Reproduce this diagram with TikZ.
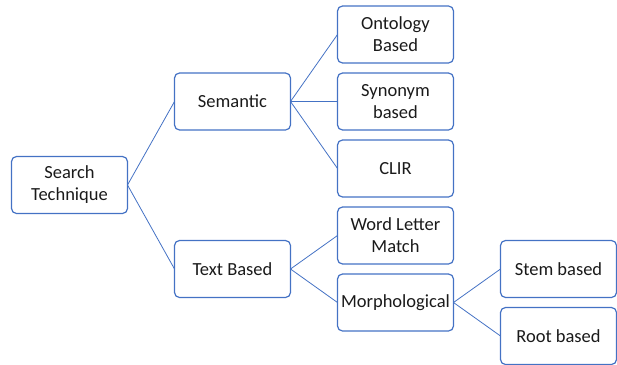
\documentclass[tikz,border=0pt]{standalone}
\usepackage{fontspec}
\setmainfont{Carlito}
\usetikzlibrary{positioning}
\definecolor{boxblue}{HTML}{4472C4}
\definecolor{inkgray}{HTML}{1A1A1A}
\def\dx{47pt}
\def\dy{10pt}
\tikzstyle{box}=[draw=boxblue,rounded corners=5pt,line width=1.2pt,
  minimum width=116pt,minimum height=57pt,inner sep=2pt,outer sep=0pt,
  align=center,text=inkgray,font={\fontsize{18.5}{22}\selectfont}]
\newcommand{\newBox}[4]{\node[box,#3](#1)[#4]{#2};}
\newcommand{\newLink}[2]{\draw[boxblue,line width=0.8pt] (#1.east) -- (#2.west);}

\begin{document}
\begin{tikzpicture}[node distance=\dy and \dx]
    \useasboundingbox (0,0) rectangle (617pt,-364pt);
    \newBox{search}{Search\\Technique}{}{at={(69.5pt,-185pt)}}
    \newBox{semantic}{Semantic}{right=of search}{yshift=83.5pt}
    \newBox{text}{Text Based}{right=of search}{yshift=-84pt}
    \newBox{synonym}{Synonym\\based}{right=of semantic}{}
    \newBox{ontology}{Ontology\\Based}{above=of synonym}{}
    \newBox{clir}{CLIR}{below=of synonym}{}
    \newBox{word}{Word Letter\\Match}{right=of text}{yshift=33.5pt}
    \newBox{morph}{Morphological}{below=of word}{}
    \newBox{stem}{Stem based}{right=of morph}{yshift=33.5pt}
    \newBox{root}{Root based}{below=of stem}{}
    \newLink{search}{semantic}
    \newLink{search}{text}
    \newLink{semantic}{ontology}
    \newLink{semantic}{synonym}
    \newLink{semantic}{clir}
    \newLink{text}{word}
    \newLink{text}{morph}
    \newLink{morph}{stem}
    \newLink{morph}{root}
  \end{tikzpicture}
\end{document}
